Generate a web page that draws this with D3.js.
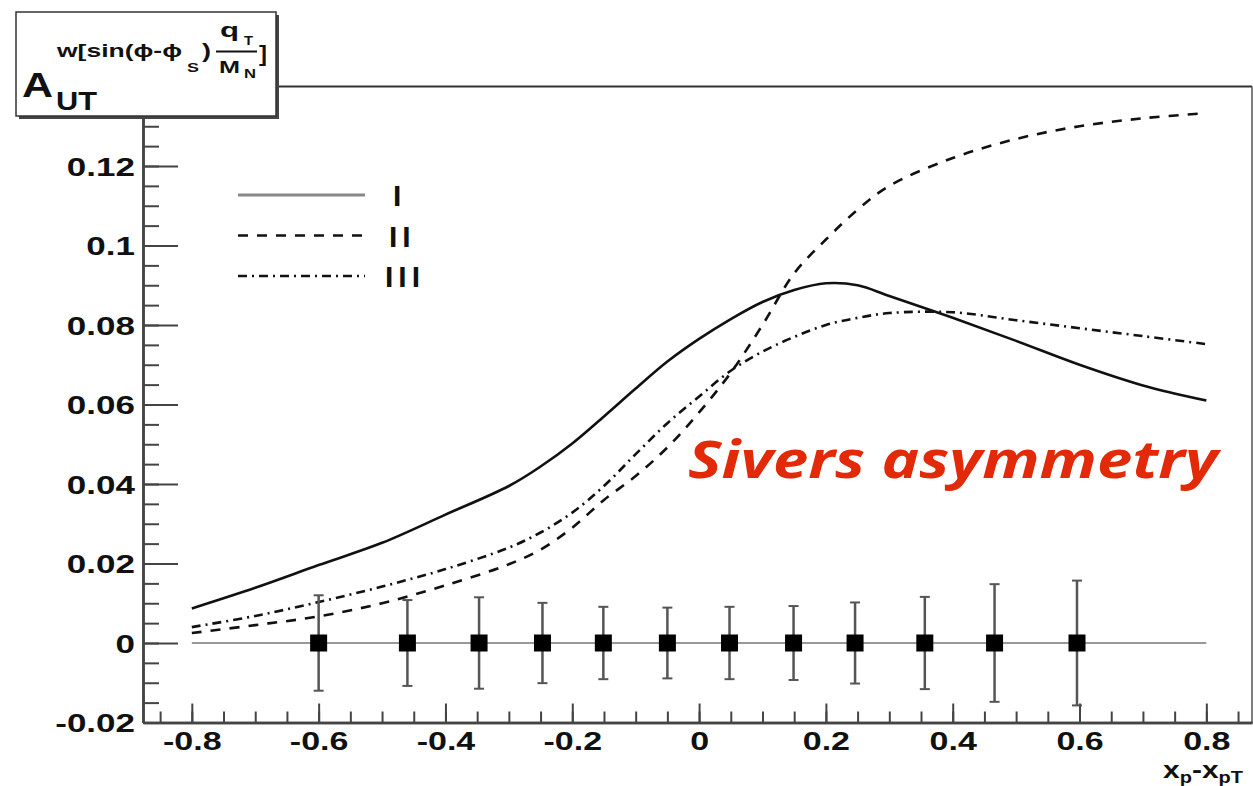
<!DOCTYPE html>
<html>
<head>
<meta charset="utf-8">
<script src="https://cdn.jsdelivr.net/npm/d3@7"></script>
<style>
  body { margin: 0; background: #fff; }
  svg { display: block; }
  text { font-family: "Liberation Sans", Arial, sans-serif; }
</style>
</head>
<body>
<div id="chart-area"></div>
<script>
// curve samples (x = xp - xpT)
var xs = [-0.8, -0.7, -0.6, -0.5, -0.4, -0.3, -0.25, -0.2, -0.15, -0.1, -0.05, 0,
          0.05, 0.1, 0.15, 0.2, 0.25, 0.3, 0.4, 0.5, 0.6, 0.7, 0.8];
var curveI = [0.0087, 0.0139, 0.0196, 0.0252, 0.0323, 0.0395, 0.0444, 0.0502, 0.0570, 0.0640, 0.0708, 0.0765,
              0.0815, 0.0858, 0.0888, 0.0905, 0.0900, 0.0873, 0.0818, 0.0760, 0.0700, 0.0648, 0.0610];
var curveII = [0.0025, 0.0045, 0.0067, 0.0100, 0.0145, 0.0198, 0.0235, 0.0290, 0.0360, 0.0420, 0.0492, 0.0580,
               0.0680, 0.0800, 0.0930, 0.1015, 0.1090, 0.1150, 0.1220, 0.1268, 0.1300, 0.1320, 0.1333];
var curveIII = [0.0040, 0.0068, 0.0103, 0.0142, 0.0186, 0.0240, 0.0278, 0.0328, 0.0395, 0.0475, 0.0553, 0.0620,
                0.0685, 0.0733, 0.0770, 0.0800, 0.0818, 0.0830, 0.0832, 0.0812, 0.0792, 0.0772, 0.0752];

// projected data points
var pointX = [-0.6, -0.46, -0.347, -0.247, -0.151, -0.05, 0.048, 0.149, 0.246, 0.356, 0.466, 0.596];
var pointY = [0, 0, 0, 0, 0, 0, 0, 0, 0, 0, 0, 0];
var pointErr = [0.012, 0.0108, 0.0115, 0.0101, 0.0091, 0.0089, 0.0091, 0.0093, 0.0102, 0.0116, 0.0148, 0.0157];

var legendNames = ["I", "II", "III"];
var xTicks = [-0.8, -0.6, -0.4, -0.2, 0, 0.2, 0.4, 0.6, 0.8];
var xTickLabels = ["-0.8", "-0.6", "-0.4", "-0.2", "0", "0.2", "0.4", "0.6", "0.8"];
var yTicks = [-0.02, 0, 0.02, 0.04, 0.06, 0.08, 0.1, 0.12];
var yTickLabels = ["-0.02", "0", "0.02", "0.04", "0.06", "0.08", "0.1", "0.12"];

var width = 1253, height = 786;

var svg = d3.select("#chart-area")
            .append("svg")
            .attr("width", width)
            .attr("height", height);

var x = d3.scaleLinear().domain([-0.877, 0.872]).range([143, 1252]);
var y = d3.scaleLinear().domain([-0.02, 0.14]).range([722.5, 86.5]);

// stretch text horizontally, the original picture is widened
function stretch(sel, k) {
    sel.each(function() {
        var w = this.getComputedTextLength();
        d3.select(this).attr("textLength", w * k).attr("lengthAdjust", "spacingAndGlyphs");
    });
}

// frame top + right
svg.append("line").attr("x1", x.range()[0]).attr("x2", x.range()[1])
    .attr("y1", y(0.14)).attr("y2", y(0.14))
    .attr("stroke", "#333").attr("stroke-width", 2);
svg.append("line").attr("x1", x.range()[1]).attr("x2", x.range()[1])
    .attr("y1", y(0.14)).attr("y2", y(-0.02))
    .attr("stroke", "#555").attr("stroke-width", 1.5);

// y axis
var yMinor = d3.range(0, 33).map(function(i) { return +(-0.02 + i * 0.005).toFixed(3); });
var yAxisMinor = svg.append("g").attr("transform", "translate(" + x.range()[0] + ",0)")
    .call(d3.axisLeft(y).tickValues(yMinor).tickSizeInner(-16).tickSizeOuter(0).tickFormat(""));
var yAxis = svg.append("g").attr("transform", "translate(" + x.range()[0] + ",0)")
    .call(d3.axisLeft(y).tickValues(yTicks).tickSizeInner(-35).tickSizeOuter(0).tickPadding(8)
        .tickFormat(function(d, i) { return yTickLabels[i]; }));

// x axis
var xMinor = d3.range(0, 35).map(function(i) { return +(-0.85 + i * 0.05).toFixed(3); });
var xAxisMinor = svg.append("g").attr("transform", "translate(0," + y(-0.02) + ")")
    .call(d3.axisBottom(x).tickValues(xMinor).tickSizeInner(-11).tickSizeOuter(0).tickFormat(""));
var xAxis = svg.append("g").attr("transform", "translate(0," + y(-0.02) + ")")
    .call(d3.axisBottom(x).tickValues(xTicks).tickSizeInner(-19).tickSizeOuter(0).tickPadding(0)
        .tickFormat(function(d, i) { return xTickLabels[i]; }));

[yAxisMinor, yAxis, xAxisMinor, xAxis].forEach(function(g) {
    g.select(".domain").attr("stroke", "#444").attr("stroke-width", 2.5);
    g.selectAll(".tick line").attr("stroke", "#444").attr("stroke-width", 2);
});
yAxis.selectAll(".tick text")
    .attr("font-size", 25).attr("font-weight", "bold").attr("fill", "#111")
    .attr("dy", "0.36em");
xAxis.selectAll(".tick text")
    .attr("font-size", 25).attr("font-weight", "bold").attr("fill", "#111")
    .attr("y", 27).attr("dy", 0);
stretch(yAxis.selectAll(".tick text"), 1.4);
stretch(xAxis.selectAll(".tick text"), 1.36);

// zero line
svg.append("line")
    .attr("x1", x(-0.8)).attr("x2", x(0.8))
    .attr("y1", y(0)).attr("y2", y(0))
    .attr("stroke", "#777").attr("stroke-width", 1.5);

// curves
var styles = [
    { data: curveI, dash: null },
    { data: curveII, dash: "10,9" },
    { data: curveIII, dash: "9,5,2,5" }
];
var line = d3.line()
    .x(function(d) { return x(d[0]); })
    .y(function(d) { return y(d[1]); })
    .curve(d3.curveCatmullRom.alpha(0.5));

styles.forEach(function(s) {
    svg.append("path")
        .datum(xs.map(function(v, i) { return [v, s.data[i]]; }))
        .attr("d", line)
        .attr("fill", "none")
        .attr("stroke", "#111")
        .attr("stroke-width", 2.6)
        .attr("stroke-dasharray", s.dash);
});

// error bars + squares
var pts = svg.append("g").selectAll("g")
    .data(pointX.map(function(v, i) { return { x: v, y: pointY[i], e: pointErr[i] }; }))
    .enter().append("g");
pts.append("line")
    .attr("x1", function(d) { return x(d.x); }).attr("x2", function(d) { return x(d.x); })
    .attr("y1", function(d) { return y(d.y + d.e); }).attr("y2", function(d) { return y(d.y - d.e); })
    .attr("stroke", "#555").attr("stroke-width", 2.5);
[1, -1].forEach(function(sg) {
    pts.append("line")
        .attr("x1", function(d) { return x(d.x) - 5; }).attr("x2", function(d) { return x(d.x) + 5; })
        .attr("y1", function(d) { return y(d.y + sg * d.e); }).attr("y2", function(d) { return y(d.y + sg * d.e); })
        .attr("stroke", "#555").attr("stroke-width", 2);
});
pts.append("rect")
    .attr("x", function(d) { return x(d.x) - 8.5; })
    .attr("y", function(d) { return y(d.y) - 8.5; })
    .attr("width", 17).attr("height", 17)
    .attr("fill", "#000");

// legend
var legend = svg.append("g").attr("transform", "translate(238,195)");
legendNames.forEach(function(name, i) {
    var g = legend.append("g").attr("transform", "translate(0," + (i * 40.5) + ")");
    g.append("line").attr("x1", 0).attr("x2", 127).attr("y1", 0).attr("y2", 0)
        .attr("stroke", i === 0 ? "#888" : "#111")
        .attr("stroke-width", i === 0 ? 3 : 2.6)
        .attr("stroke-dasharray", styles[i].dash);
    g.append("text").attr("x", 155 - i * 4).attr("y", 11)
        .attr("font-size", 30).attr("fill", "#111")
        .style("font-weight", "bold")
        .attr("letter-spacing", 5)
        .text(name);
});

// title box
var box = svg.append("g");
box.append("rect").attr("x", 19).attr("y", 15).attr("width", 260).attr("height", 104).attr("fill", "#444");
box.append("rect").attr("x", 16).attr("y", 12).attr("width", 260).attr("height", 104)
    .attr("fill", "#fff").attr("stroke", "#333").attr("stroke-width", 1.5);

function boxText(str, px, py, size, w, weight) {
    var t = box.append("text").attr("x", px).attr("y", py)
        .attr("font-size", size).attr("font-weight", weight || "bold").attr("fill", "#111")
        .text(str);
    if (w) t.attr("textLength", w).attr("lengthAdjust", "spacingAndGlyphs");
    return t;
}
boxText("A", 22, 97, 35, 31);
boxText("UT", 56, 110, 26, 41);
boxText("w[sin(\u03D5-\u03D5", 57, 57, 19, 125);
boxText("S", 187, 72, 13, 12);
boxText(")", 202, 58, 20, 9);
boxText("q", 220, 37, 20, 19);
boxText("T", 244, 45, 12, 9);
box.append("line").attr("x1", 216).attr("x2", 257).attr("y1", 51.5).attr("y2", 51.5)
    .attr("stroke", "#111").attr("stroke-width", 2);
boxText("M", 219, 73, 17, 21);
boxText("N", 244, 78, 12, 12);
boxText("]", 259, 61, 22, 8);

// x axis title
var xt = svg.append("text").attr("x", 1163).attr("y", 778)
    .attr("font-weight", "bold").attr("fill", "#111");
xt.append("tspan").attr("font-size", 24).text("x");
xt.append("tspan").attr("font-size", 16).attr("dy", 5).text("p");
xt.append("tspan").attr("font-size", 24).attr("dy", -5).text("-x");
xt.append("tspan").attr("font-size", 16).attr("dy", 5).text("pT");
stretch(xt, 1.25);

// annotation
svg.append("text")
    .attr("x", 688).attr("y", 478)
    .style("font-family", "'Open Sans', sans-serif")
    .attr("font-size", 52)
    .attr("font-weight", "bold")
    .attr("font-style", "italic")
    .attr("fill", "#e22a08")
    .attr("textLength", 530)
    .attr("lengthAdjust", "spacingAndGlyphs")
    .text("Sivers asymmetry");
</script>
</body>
</html>
